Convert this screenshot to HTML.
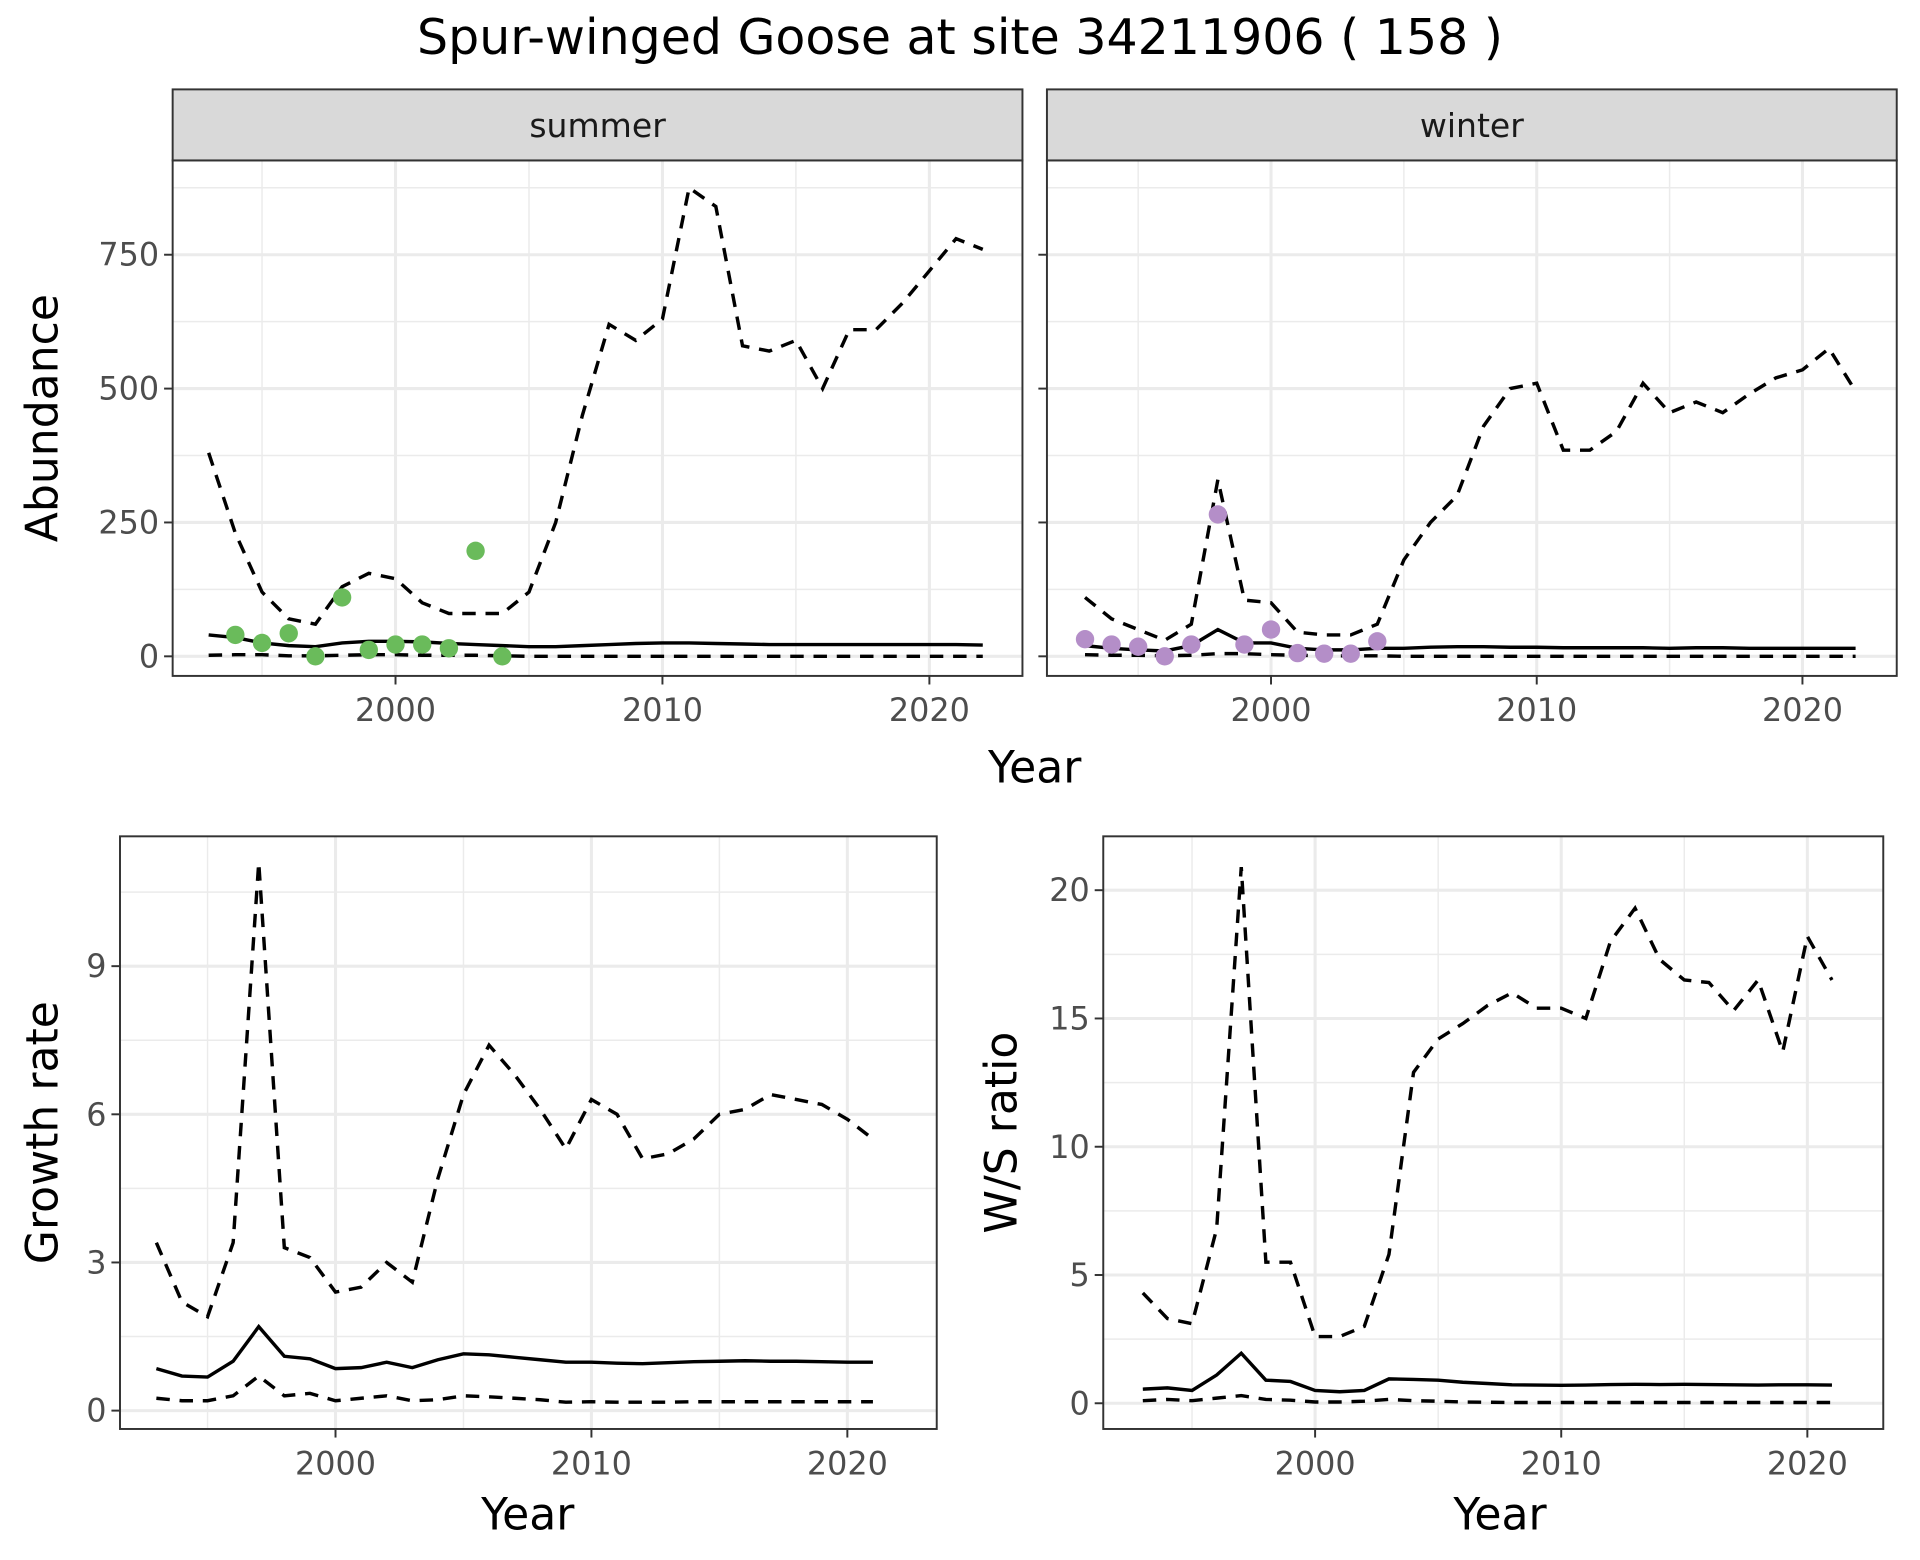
<!DOCTYPE html>
<html><head><meta charset="utf-8"><style>
html,body{margin:0;padding:0;background:#fff;}
svg{display:block;font-family:"DejaVu Sans","Liberation Sans",sans-serif;}
</style></head><body>
<svg id="chart" width="1920" height="1560" viewBox="0 0 1568 1274" xmlns="http://www.w3.org/2000/svg">
<text x="784" y="44" font-size="40" text-anchor="middle" fill="#000">Spur-winged Goose at site 34211906 ( 158 )</text>
</svg>
<script>
const yearsA = [1993,1994,1995,1996,1997,1998,1999,2000,2001,2002,2003,2004,2005,2006,2007,2008,2009,2010,2011,2012,2013,2014,2015,2016,2017,2018,2019,2020,2021,2022];
const sumUpper = [380,230,120,70,60,130,155,145,100,80,80,80,120,250,450,620,590,630,875,840,580,570,590,500,610,610,660,720,780,760];
const sumMean = [40,35,25,20,18,25,28,28,27,24,22,20,18,18,20,22,24,25,25,24,23,22,22,22,22,22,22,22,22,21];
const sumLower = [2,3,3,1,1,2,3,3,2,2,2,1,0,0,0,0,0,0,0,0,0,0,0,0,0,0,0,0,0,0];
const sumPtYears = [1994,1995,1996,1997,1998,1999,2000,2001,2002,2003,2004];
const sumPts = [40,25,43,0,110,12,22,22,15,197,0];
const winUpper = [110,70,50,30,60,330,105,100,45,40,40,60,180,250,300,430,500,510,385,385,420,510,455,475,455,490,520,535,575,495];
const winMean = [20,15,12,10,20,50,25,25,15,12,12,15,15,17,18,18,17,17,16,16,16,16,15,16,16,15,15,15,15,15];
const winLower = [3,2,2,1,2,5,5,3,2,1,1,1,0,0,0,0,0,0,0,0,0,0,0,0,0,0,0,0,0,0];
const winPtYears = [1993,1994,1995,1996,1997,1998,1999,2000,2001,2002,2003,2004];
const winPts = [32,22,18,0,22,265,22,50,6,5,5,28];
const yearsB = [1993,1994,1995,1996,1997,1998,1999,2000,2001,2002,2003,2004,2005,2006,2007,2008,2009,2010,2011,2012,2013,2014,2015,2016,2017,2018,2019,2020,2021];
const grUpper = [3.4,2.2,1.9,3.4,11.1,3.3,3.1,2.4,2.5,3.0,2.6,4.7,6.4,7.4,6.8,6.1,5.3,6.3,6.0,5.1,5.2,5.5,6.0,6.1,6.4,6.3,6.2,5.9,5.5];
const grMean = [0.85,0.7,0.68,1.0,1.7,1.1,1.05,0.85,0.87,0.98,0.87,1.03,1.15,1.13,1.08,1.03,0.98,0.98,0.96,0.95,0.97,0.99,1.0,1.01,1.0,1.0,0.99,0.98,0.98];
const grLower = [0.25,0.2,0.2,0.3,0.7,0.3,0.35,0.2,0.25,0.3,0.2,0.22,0.3,0.28,0.25,0.22,0.17,0.18,0.17,0.17,0.17,0.18,0.18,0.18,0.18,0.18,0.18,0.18,0.18];
const wsUpper = [4.3,3.3,3.1,6.8,20.9,5.5,5.5,2.6,2.6,3.0,5.8,12.9,14.2,14.8,15.5,16.0,15.4,15.4,15.0,18.0,19.3,17.3,16.5,16.4,15.3,16.5,13.7,18.2,16.5];
const wsMean = [0.55,0.6,0.5,1.1,1.95,0.9,0.85,0.5,0.45,0.5,0.95,0.93,0.9,0.82,0.77,0.72,0.71,0.7,0.71,0.73,0.74,0.73,0.74,0.73,0.72,0.71,0.72,0.72,0.71];
const wsLower = [0.1,0.15,0.1,0.2,0.3,0.15,0.12,0.05,0.05,0.08,0.15,0.1,0.08,0.05,0.04,0.03,0.03,0.03,0.03,0.03,0.03,0.03,0.03,0.03,0.03,0.03,0.03,0.03,0.03];
const xTicks = [2000,2010,2020];
const xMinor = [1995,2005,2015];
const abTicks = [0,250,500,750];
const abMinor = [125,375,625,875];
const grTicks = [0,3,6,9];
const grMinor = [1.5,4.5,7.5,10.5];
const wsTicks = [0,5,10,15,20];
const wsMinor = [2.5,7.5,12.5,17.5];

const NS='http://www.w3.org/2000/svg';
const svg=document.getElementById('chart');
function mk(tag,attrs,parent){const e=document.createElementNS(NS,tag);for(const k in attrs)e.setAttribute(k,attrs[k]);(parent||svg).appendChild(e);return e;}

function panel(p){
  const g=mk('g',{});
  
  
  const sx=v=>p.x0+(v-p.xa)*p.xs, sy=v=>p.y0-v*p.ys;
  mk('rect',{x:p.L,y:p.T,width:p.R-p.L,height:p.B-p.T,fill:'#fff'},g);
  p.xMinor.forEach(v=>mk('line',{x1:sx(v),x2:sx(v),y1:p.T,y2:p.B,stroke:'#ebebeb','stroke-width':1.2},g));
  p.yMinor.forEach(v=>{const y=sy(v);if(y>p.T)mk('line',{x1:p.L,x2:p.R,y1:y,y2:y,stroke:'#ebebeb','stroke-width':1.2},g);});
  p.xTicks.forEach(v=>mk('line',{x1:sx(v),x2:sx(v),y1:p.T,y2:p.B,stroke:'#ebebeb','stroke-width':2.5},g));
  p.yTicks.forEach(v=>mk('line',{x1:p.L,x2:p.R,y1:sy(v),y2:sy(v),stroke:'#ebebeb','stroke-width':2.5},g));
  const line=(xs,ys,dash,nm)=>{const e=mk('polyline',{points:xs.map((x,i)=>sx(x)+','+sy(ys[i])).join(' '),fill:'none',stroke:'#000','stroke-width':2.8,'stroke-dasharray':dash||'none'},g);
    
    };
  line(p.years,p.lower,'11,8','lower-bound-line');
  line(p.years,p.mean,null,'mean-line');
  line(p.years,p.upper,'11,8','upper-bound-line');
  if(p.ptY){p.ptY.forEach((x,i)=>{const c=mk('circle',{cx:sx(x),cy:sy(p.pts[i]),r:7.5,fill:p.ptC},g);
    
    });}
  mk('rect',{x:p.L,y:p.T,width:p.R-p.L,height:p.B-p.T,fill:'none',stroke:'#333','stroke-width':1.6},g);
  if(p.strip){const s=mk('rect',{x:p.L,y:p.T-58,width:p.R-p.L,height:58,fill:'#d9d9d9',stroke:'#333','stroke-width':1.6},g);
    
    
    const t=mk('text',{x:(p.L+p.R)/2,y:p.T-19,'font-size':27,'text-anchor':'middle',fill:'#1a1a1a'},g);t.textContent=p.strip;
    
    }
  p.xTicks.forEach(v=>{mk('line',{x1:sx(v),x2:sx(v),y1:p.B,y2:p.B+7,stroke:'#333','stroke-width':1.6},g);
    const t=mk('text',{x:sx(v),y:p.B+37,'font-size':26,'text-anchor':'middle',fill:'#4d4d4d'},g);t.textContent=v;
    
    });
  if(p.yLabels){p.yTicks.forEach(v=>{mk('line',{x1:p.L-7,x2:p.L,y1:sy(v),y2:sy(v),stroke:'#333','stroke-width':1.6},g);
    const t=mk('text',{x:p.L-11,y:sy(v)+9,'font-size':26,'text-anchor':'end',fill:'#4d4d4d'},g);t.textContent=v;
    
    });}
  else p.yTicks.forEach(v=>mk('line',{x1:p.L-7,x2:p.L,y1:sy(v),y2:sy(v),stroke:'#333','stroke-width':1.6},g));
  if(p.yTitle){const t=mk('text',{x:0,y:0,'font-size':36,'text-anchor':'middle',fill:'#000',transform:`translate(${p.yTitleX},${(p.T+p.B)/2}) rotate(-90)`},g);t.textContent=p.yTitle;
    
    }
  if(p.xTitleX){const t=mk('text',{x:p.xTitleX,y:p.xTitleY,'font-size':36,'text-anchor':'middle',fill:'#000'},g);t.textContent='Year';
    
    }
}

panel({name:'summer-panel',L:141,R:835,T:131,B:552,x0:323,xa:2000,xs:21.8,y0:536,ys:0.4373,xTicks,xMinor,yTicks:abTicks,yMinor:abMinor,
  years:yearsA,upper:sumUpper,mean:sumMean,lower:sumLower,ptY:sumPtYears,pts:sumPts,ptC:'#6abb5b',strip:'summer',yLabels:true,yTitle:'Abundance',yTitleX:47});
panel({name:'winter-panel',L:855,R:1549,T:131,B:552,x0:1038,xa:2000,xs:21.7,y0:536,ys:0.4373,xTicks,xMinor,yTicks:abTicks,yMinor:abMinor,
  years:yearsA,upper:winUpper,mean:winMean,lower:winLower,ptY:winPtYears,pts:winPts,ptC:'#b48ec8',strip:'winter',yLabels:false});
(function(){const t=mk('text',{x:845,y:639,'font-size':36,'text-anchor':'middle',fill:'#000'});t.textContent='Year';
  
  })();
panel({name:'growth-rate-panel',L:98,R:765,T:683,B:1167,x0:274,xa:2000,xs:20.9,y0:1152,ys:40.33,xTicks,xMinor,yTicks:grTicks,yMinor:grMinor,
  years:yearsB,upper:grUpper,mean:grMean,lower:grLower,yLabels:true,yTitle:'Growth rate',yTitleX:47,xTitleX:431,xTitleY:1249});
panel({name:'ws-ratio-panel',L:901,R:1538,T:683,B:1167,x0:1074,xa:2000,xs:20.1,y0:1146,ys:20.95,xTicks,xMinor,yTicks:wsTicks,yMinor:wsMinor,
  years:yearsB,upper:wsUpper,mean:wsMean,lower:wsLower,yLabels:true,yTitle:'W/S ratio',yTitleX:830,xTitleX:1225,xTitleY:1249});
</script>
</body></html>
